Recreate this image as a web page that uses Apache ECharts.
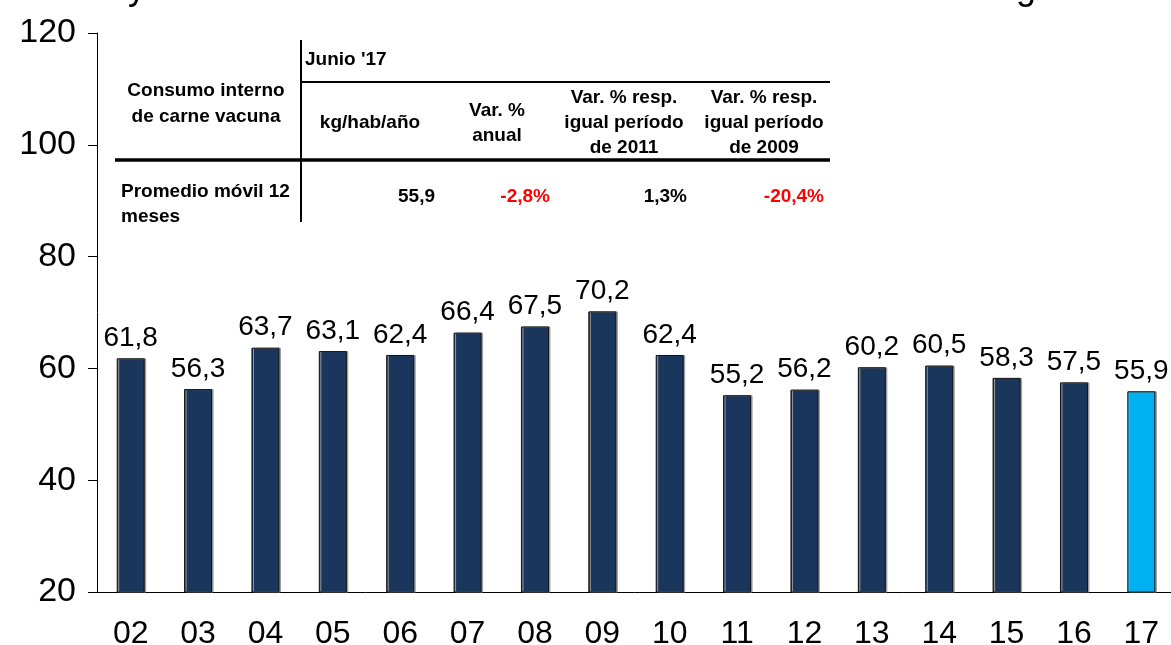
<!DOCTYPE html>
<html>
<head>
<meta charset="utf-8">
<title></title>
<style>
  html, body { margin: 0; padding: 0; background: #fff; }
  #chart { width: 1171px; height: 645px; }
</style>
</head>
<body>
<div id="chart"></div>
<script src="https://cdn.jsdelivr.net/npm/echarts@6/dist/echarts.min.js"></script>
<script>
// datos
var anios = ['02','03','04','05','06','07','08','09','10','11','12','13','14','15','16','17'];
var consumo = [61.8, 56.3, 63.7, 63.1, 62.4, 66.4, 67.5, 70.2, 62.4, 55.2, 56.2, 60.2, 60.5, 58.3, 57.5, 55.9];

// tabla
var tablaPeriodo = "Junio '17";
var tablaTitulo = 'Consumo interno\nde carne vacuna';
var tablaColumnas = ['kg/hab/año', 'Var. %\nanual', 'Var. % resp.\nigual período\nde 2011', 'Var. % resp.\nigual período\nde 2009'];
var tablaFila = 'Promedio móvil 12\nmeses';
var tablaValores = ['55,9', '-2,8%', '1,3%', '-20,4%'];

var azul = '#1b365d';
var celeste = '#00b0f0';
var fuente = "'Liberation Sans', Arial, sans-serif";
var fTabla = 'bold 19px ' + fuente;

var barras = consumo.map(function (v, i) {
  return {
    value: v,
    itemStyle: { color: i === consumo.length - 1 ? celeste : azul }
  };
});

var colCentros = [370, 497, 624, 764];
var colDerecha = [435, 550, 687, 824];
var colRojo = [false, true, false, true];

var graficos = [
  // restos del titulo cortado (queda fuera del lienzo)
  { type: 'text', style: { text: 'y', x: 128, y: 7, font: '36px ' + fuente, fill: '#000', verticalAlign: 'bottom' } },
  { type: 'text', style: { text: 'g', x: 1016, y: 7, font: '36px ' + fuente, fill: '#000', verticalAlign: 'bottom' } },
  // lineas de la tabla
  { type: 'line', shape: { x1: 301, y1: 40, x2: 301, y2: 222 }, style: { stroke: '#000', lineWidth: 2 } },
  { type: 'line', shape: { x1: 301, y1: 82, x2: 830, y2: 82 }, style: { stroke: '#000', lineWidth: 2 } },
  { type: 'line', shape: { x1: 115, y1: 160, x2: 830, y2: 160 }, style: { stroke: '#000', lineWidth: 3.5 } },
  { type: 'text', style: { text: tablaPeriodo, x: 305, y: 60, font: fTabla, fill: '#000', align: 'left', verticalAlign: 'middle' } },
  { type: 'text', style: { text: tablaTitulo, x: 206, y: 104, font: fTabla, lineHeight: 26, fill: '#000', align: 'center', verticalAlign: 'middle' } },
  { type: 'text', style: { text: tablaFila, x: 121, y: 204, font: fTabla, lineHeight: 25, fill: '#000', align: 'left', verticalAlign: 'middle' } }
];

tablaColumnas.forEach(function (t, i) {
  graficos.push({
    type: 'text',
    style: { text: t, x: colCentros[i], y: 123, font: fTabla, lineHeight: 25, fill: '#000', align: 'center', verticalAlign: 'middle' }
  });
});
tablaValores.forEach(function (t, i) {
  graficos.push({
    type: 'text',
    style: { text: t, x: colDerecha[i], y: 197, font: fTabla, fill: colRojo[i] ? '#ff0000' : '#000', align: 'right', verticalAlign: 'middle' }
  });
});

var option = {
  animation: false,
  backgroundColor: '#fff',
  grid: { left: 97, right: -4, top: 33, bottom: 53, outerBoundsMode: 'none', containLabel: false },
  xAxis: {
    type: 'category',
    data: anios,
    axisLine: { lineStyle: { color: '#000', width: 1 } },
    axisTick: { length: 8, lineStyle: { color: '#000' } },
    axisLabel: { color: '#000', fontSize: 32, fontFamily: fuente, margin: 26 }
  },
  yAxis: {
    type: 'value',
    min: 20,
    max: 120,
    interval: 20,
    splitLine: { show: false },
    axisLine: { show: true, lineStyle: { color: '#000', width: 1 } },
    axisTick: { show: true, length: 9, lineStyle: { color: '#000' } },
    axisLabel: { color: '#000', fontSize: 34, fontFamily: fuente, margin: 21 }
  },
  series: [{
    type: 'bar',
    data: barras,
    barWidth: 28,
    itemStyle: { borderColor: '#111', borderWidth: 1, shadowColor: '#999', shadowOffsetX: 1.5, shadowOffsetY: 0, shadowBlur: 0 },
    label: {
      show: true,
      position: 'top',
      distance: 6,
      color: '#000',
      fontSize: 28,
      fontFamily: fuente,
      formatter: function (p) { return p.value.toFixed(1).replace('.', ','); }
    }
  }],
  graphic: graficos
};

var chart = echarts.init(document.getElementById('chart'));
chart.setOption(option);
</script>
</body>
</html>
